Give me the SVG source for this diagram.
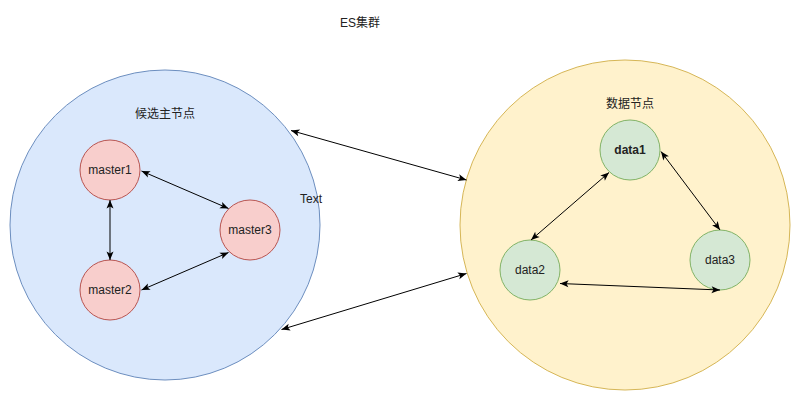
<svg xmlns="http://www.w3.org/2000/svg" width="801" height="401" viewBox="0 0 801 401">
<defs>
<style>
text{font-family:"Liberation Sans","Noto Sans CJK SC",Arial,sans-serif;font-size:12px;fill:#222;text-anchor:middle;dominant-baseline:central}
.blue{fill:#dae8fc;stroke:#6c8ebf}
.yellow{fill:#fff2cc;stroke:#d6b656}
.red{fill:#f8cecc;stroke:#b85450}
.green{fill:#d5e8d4;stroke:#82b366}
.edge{fill:none;stroke:#000;stroke-width:1;marker-start:url(#arr);marker-end:url(#arr)}
</style>
<marker id="arr" viewBox="0 0 10 8" refX="9.5" refY="4" markerWidth="10" markerHeight="8" markerUnits="userSpaceOnUse" orient="auto-start-reverse">
<path d="M1,0.5 L9.5,4 L1,7.5 L3,4 Z" fill="#000"/>
</marker>
</defs>
<rect width="801" height="401" fill="#fff"/>
<g id="title"><text x="360" y="23">ES集群</text></g>
<g id="masterGroup"><circle class="blue" cx="165" cy="225" r="155"/><text x="165" y="114">候选主节点</text></g>
<g id="dataGroup"><circle class="yellow" cx="625" cy="225" r="165"/><text x="630" y="104">数据节点</text></g>
<g id="textLabel"><text x="311" y="199">Text</text></g>
<g id="master1"><circle class="red" cx="110" cy="170" r="30"/><text x="110" y="170">master1</text></g>
<g id="master2"><circle class="red" cx="110" cy="290" r="30"/><text x="110" y="290">master2</text></g>
<g id="master3"><circle class="red" cx="250" cy="230" r="30"/><text x="250" y="230">master3</text></g>
<g id="data1"><circle class="green" cx="630" cy="150" r="30"/><text x="630" y="150" font-weight="bold">data1</text></g>
<g id="data2"><circle class="green" cx="530" cy="270" r="30"/><text x="530" y="270">data2</text></g>
<g id="data3"><circle class="green" cx="720" cy="260" r="30"/><text x="720" y="260">data3</text></g>
<g id="connectors">
<path class="edge" d="M141.5,171 L228.5,208.5"/>
<path class="edge" d="M110,200 L110,260"/>
<path class="edge" d="M141.5,290 L228.5,252.5"/>
<path class="edge" d="M291,130.5 L466.5,180"/>
<path class="edge" d="M281.5,329.5 L466.5,273.5"/>
<path class="edge" d="M609,172.5 L531,240"/>
<path class="edge" d="M661,151.5 L720,230"/>
<path class="edge" d="M560,283.5 L720,290"/>
</g>
</svg>
